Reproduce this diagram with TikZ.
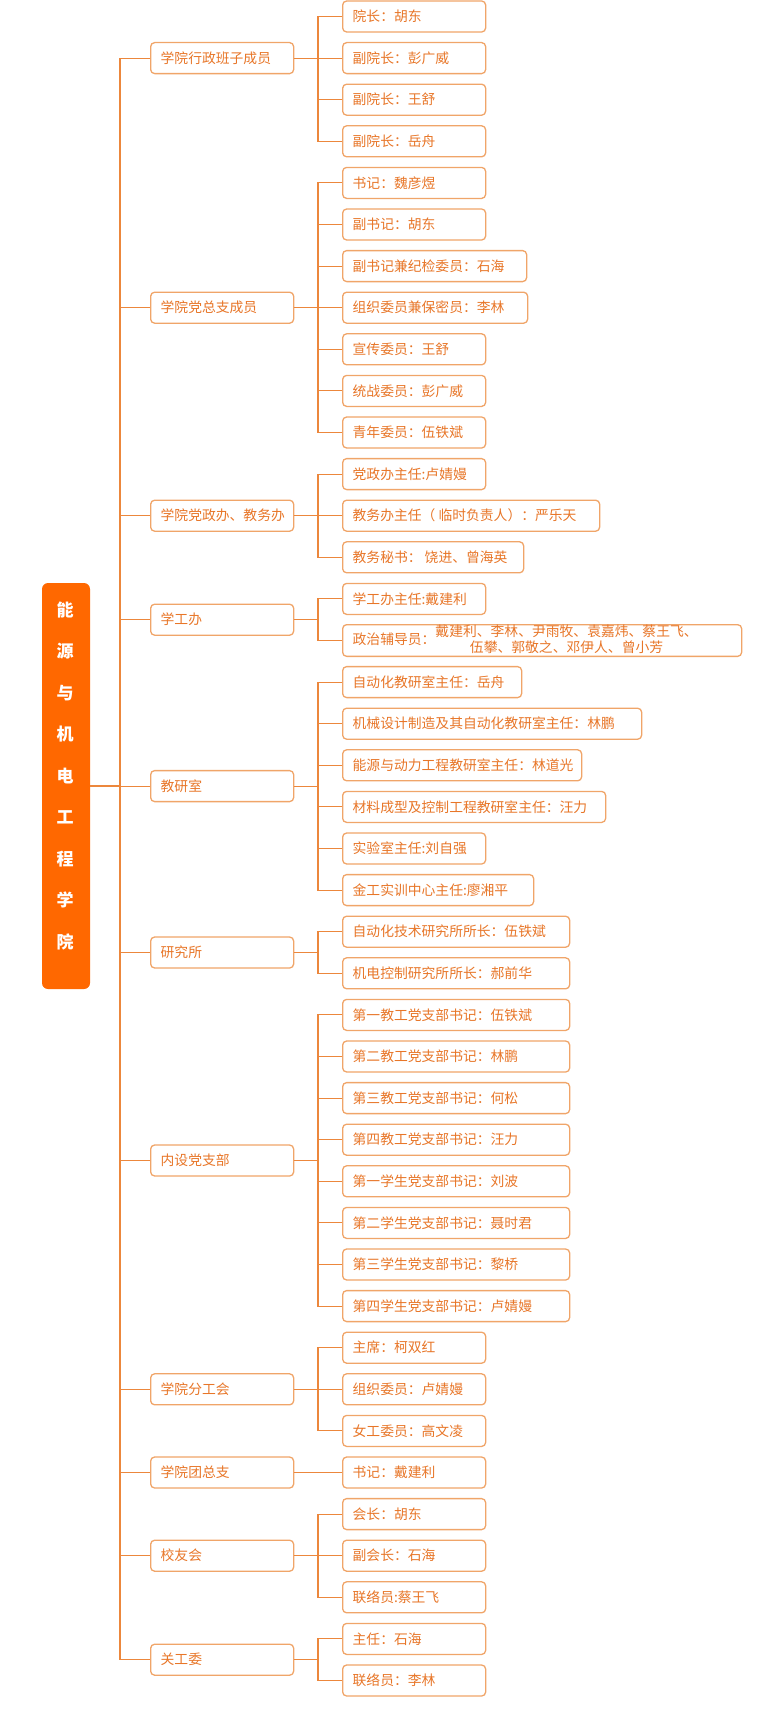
\documentclass[tikz,border=0pt]{standalone}
\usepackage{fontspec}
\setmainfont{Noto Sans CJK SC}
\definecolor{txt}{RGB}{232,118,40}
\definecolor{brd}{RGB}{240,165,105}
\definecolor{lnk}{RGB}{236,135,60}
\definecolor{rootfill}{RGB}{255,104,0}
\newcommand\lb[2]{\makebox[#1pt][l]{#2}}
\begin{document}
\begin{tikzpicture}[x=1pt,y=-1pt,
  box/.style={draw=brd, line width=1.3pt, rounded corners=4pt, fill=white, text=txt,
    font=\fontsize{13.8}{14}\selectfont, minimum height=31pt, inner xsep=10pt, inner ysep=0pt, anchor=west},
  link/.style={draw=lnk, line width=1.1pt},
  rootbox/.style={fill=rootfill, draw=none, rounded corners=6pt, minimum width=48pt, minimum height=406pt, inner sep=0pt},
  roottext/.style={text=white, font=\bfseries\fontsize{17}{41.5}\selectfont, align=center, inner sep=0pt}]
\useasboundingbox (0,0) rectangle (758,1710);
% root
\node[rootbox] (root) at (66,786) {};
\node[roottext] (roottxt) at (65,776) {能\\源\\与\\机\\电\\工\\程\\学\\院};
% level 1
\node[box] (g1) at (150,58.1) {\lb{123}{学院行政班子成员}};
\node[box] (g2) at (150,307.7) {\lb{123}{学院党总支成员}};
\node[box] (g3) at (150,515.7) {\lb{123}{学院党政办、教务办}};
\node[box] (g4) at (150,619.7) {\lb{123}{学工办}};
\node[box] (g5) at (150,786.1) {\lb{123}{教研室}};
\node[box] (g6) at (150,952.5) {\lb{123}{研究所}};
\node[box] (g7) at (150,1160.5) {\lb{123}{内设党支部}};
\node[box] (g8) at (150,1389.3) {\lb{123}{学院分工会}};
\node[box] (g9) at (150,1472.5) {\lb{123}{学院团总支}};
\node[box] (g10) at (150,1555.7) {\lb{123}{校友会}};
\node[box] (g11) at (150,1659.7) {\lb{123}{关工委}};
% level 2
\node[box] (n0) at (342,16.5) {\lb{123}{院长：胡东}};
\node[box] (n1) at (342,58.1) {\lb{123}{副院长：彭广威}};
\node[box] (n2) at (342,99.7) {\lb{123}{副院长：王舒}};
\node[box] (n3) at (342,141.3) {\lb{123}{副院长：岳舟}};
\node[box] (n4) at (342,182.9) {\lb{123}{书记：魏彦煜}};
\node[box] (n5) at (342,224.5) {\lb{123}{副书记：胡东}};
\node[box] (n6) at (342,266.1) {\lb{164}{副书记兼纪检委员：石海}};
\node[box] (n7) at (342,307.7) {\lb{165}{组织委员兼保密员：李林}};
\node[box] (n8) at (342,349.3) {\lb{123}{宣传委员：王舒}};
\node[box] (n9) at (342,390.9) {\lb{123}{统战委员：彭广威}};
\node[box] (n10) at (342,432.5) {\lb{123}{青年委员：伍铁斌}};
\node[box] (n11) at (342,474.1) {\lb{123}{党政办主任:卢婧嫚}};
\node[box] (n12) at (342,515.7) {\lb{237}{教务办主任（ 临时负责人）：严乐天}};
\node[box] (n13) at (342,557.3) {\lb{161}{教务秘书： 饶进、曾海英}};
\node[box] (n14) at (342,598.9) {\lb{123}{学工办主任:戴建利}};
\node[box] (n15) at (342,640.5) {\lb{379}{政治辅导员：\begin{tabular}[c]{@{}c@{}}戴建利、李林、尹雨牧、袁嘉炜、蔡王飞、\\伍攀、郭敬之、邓伊人、曾小芳\end{tabular}}};
\node[box] (n16) at (342,682.1) {\lb{159}{自动化教研室主任：岳舟}};
\node[box] (n17) at (342,723.7) {\lb{279}{机械设计制造及其自动化教研室主任：林鹏}};
\node[box] (n18) at (342,765.3) {\lb{219}{能源与动力工程教研室主任：林道光}};
\node[box] (n19) at (342,806.9) {\lb{243}{材料成型及控制工程教研室主任：汪力}};
\node[box] (n20) at (342,848.5) {\lb{123}{实验室主任:刘自强}};
\node[box] (n21) at (342,890.1) {\lb{171}{金工实训中心主任:廖湘平}};
\node[box] (n22) at (342,931.7) {\lb{207}{自动化技术研究所所长：伍铁斌}};
\node[box] (n23) at (342,973.3) {\lb{207}{机电控制研究所所长：郝前华}};
\node[box] (n24) at (342,1014.9) {\lb{207}{第一教工党支部书记：伍铁斌}};
\node[box] (n25) at (342,1056.5) {\lb{207}{第二教工党支部书记：林鹏}};
\node[box] (n26) at (342,1098.1) {\lb{207}{第三教工党支部书记：何松}};
\node[box] (n27) at (342,1139.7) {\lb{207}{第四教工党支部书记：汪力}};
\node[box] (n28) at (342,1181.3) {\lb{207}{第一学生党支部书记：刘波}};
\node[box] (n29) at (342,1222.9) {\lb{207}{第二学生党支部书记：聂时君}};
\node[box] (n30) at (342,1264.5) {\lb{207}{第三学生党支部书记：黎桥}};
\node[box] (n31) at (342,1306.1) {\lb{207}{第四学生党支部书记：卢婧嫚}};
\node[box] (n32) at (342,1347.7) {\lb{123}{主席：柯双红}};
\node[box] (n33) at (342,1389.3) {\lb{123}{组织委员：卢婧嫚}};
\node[box] (n34) at (342,1430.9) {\lb{123}{女工委员：高文凌}};
\node[box] (n35) at (342,1472.5) {\lb{123}{书记：戴建利}};
\node[box] (n36) at (342,1514.1) {\lb{123}{会长：胡东}};
\node[box] (n37) at (342,1555.7) {\lb{123}{副会长：石海}};
\node[box] (n38) at (342,1597.3) {\lb{123}{联络员:蔡王飞}};
\node[box] (n39) at (342,1638.9) {\lb{123}{主任：石海}};
\node[box] (n40) at (342,1680.5) {\lb{123}{联络员：李林}};
% trunk connectors
\foreach \g in {g1,g2,g3,g4,g5,g6,g7,g8,g9,g10,g11}
  \draw[link] (\g.west) -- ++(-30,0) |- (root.east);
% branch connectors
\foreach \c/\p in {n0/g1,n1/g1,n2/g1,n3/g1,
  n4/g2,n5/g2,n6/g2,n7/g2,n8/g2,n9/g2,n10/g2,
  n11/g3,n12/g3,n13/g3,
  n14/g4,n15/g4,
  n16/g5,n17/g5,n18/g5,n19/g5,n20/g5,n21/g5,
  n22/g6,n23/g6,
  n24/g7,n25/g7,n26/g7,n27/g7,n28/g7,n29/g7,n30/g7,n31/g7,
  n32/g8,n33/g8,n34/g8,
  n35/g9,
  n36/g10,n37/g10,n38/g10,
  n39/g11,n40/g11}
  \draw[link] (\c.west) -- ++(-24,0) |- (\p.east);
\end{tikzpicture}
\end{document}
